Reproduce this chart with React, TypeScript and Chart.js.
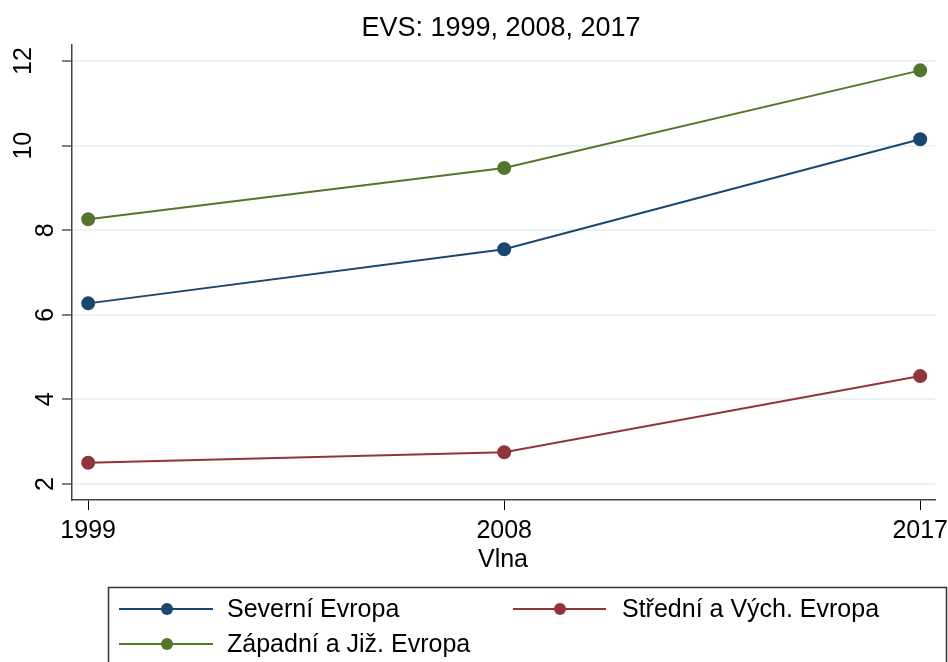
import React, { useEffect, useRef } from "react";
import { Chart, registerables } from "chart.js";

Chart.register(...registerables);

const waves = [1999, 2008, 2017];
const yTicks = [2, 4, 6, 8, 10, 12];
const seriesNames = ["Severní Evropa", "Střední a Vých. Evropa", "Západní a Již. Evropa"];
const severni = [6.27, 7.55, 10.15];
const stredni = [2.5, 2.75, 4.55];
const zapadni = [8.26, 9.47, 11.78];
const colors = ["#1a476f", "#90353b", "#55752f"];
const titleText = "EVS: 1999, 2008, 2017";
const xTitle = "Vlna";

const FONT = "'Liberation Sans', Arial, sans-serif";

const textPlugin = {
  id: "stataText",
  afterDraw(chart: any) {
    const ctx = chart.ctx;
    const xs = chart.scales.x;
    const ys = chart.scales.y;
    ctx.save();
    ctx.fillStyle = "#000";
    // title
    ctx.font = `27px ${FONT}`;
    ctx.textAlign = "center";
    ctx.textBaseline = "alphabetic";
    ctx.fillText(titleText, 501, 36);
    // x tick labels
    ctx.font = `25px ${FONT}`;
    waves.forEach((w) => {
      ctx.fillText(String(w), xs.getPixelForValue(w), 538);
    });
    // x title
    ctx.fillText(xTitle, 503, 567);
    // y tick labels rotated
    yTicks.forEach((t) => {
      const y = ys.getPixelForValue(t);
      const label = String(t);
      const bx = label.length > 1 ? 31 : 53;
      ctx.save();
      ctx.translate(bx, y);
      ctx.rotate(-Math.PI / 2);
      ctx.textAlign = "center";
      ctx.textBaseline = "alphabetic";
      ctx.fillText(label, 0, 0);
      ctx.restore();
    });
    // legend box
    ctx.strokeStyle = "#333";
    ctx.lineWidth = 1.5;
    ctx.strokeRect(108.5, 587.5, 838, 100);
    const entries = [
      { x0: 119, x1: 213, mx: 167, tx: 227, y: 609 },
      { x0: 513, x1: 606, mx: 560, tx: 622, y: 609 },
      { x0: 119, x1: 213, mx: 167, tx: 227, y: 644 },
    ];
    chart.data.datasets.forEach((ds: any, i: number) => {
      const e = entries[i];
      ctx.strokeStyle = ds.borderColor;
      ctx.lineWidth = 2;
      ctx.beginPath();
      ctx.moveTo(e.x0, e.y);
      ctx.lineTo(e.x1, e.y);
      ctx.stroke();
      ctx.fillStyle = ds.borderColor;
      ctx.beginPath();
      ctx.arc(e.mx, e.y, 6, 0, Math.PI * 2);
      ctx.fill();
      ctx.fillStyle = "#000";
      ctx.textAlign = "left";
      ctx.textBaseline = "middle";
      ctx.font = `25px ${FONT}`;
      ctx.fillText(ds.label, e.tx, e.y + 1);
    });
    ctx.restore();
  },
};

export default function App() {
  const ref = useRef<HTMLCanvasElement | null>(null);
  useEffect(() => {
    if (!ref.current) return;
    const mk = (i: number, vals: number[]) => ({
      label: seriesNames[i],
      data: waves.map((w, k) => ({ x: w, y: vals[k] })),
      borderColor: colors[i],
      backgroundColor: colors[i],
      pointBackgroundColor: colors[i],
      pointBorderColor: colors[i],
      pointRadius: 6,
      borderWidth: 2,
      tension: 0,
    });
    const chart = new Chart(ref.current, {
      type: "line",
      data: { datasets: [mk(0, severni), mk(1, stredni), mk(2, zapadni)] },
      options: {
        animation: false,
        responsive: false,
        maintainAspectRatio: false,
        layout: { padding: { left: 0, right: 13, top: 45, bottom: 0 } },
        plugins: {
          legend: { display: false },
          title: { display: false },
          tooltip: { enabled: false },
        },
        scales: {
          x: {
            type: "linear",
            min: 1998.65,
            max: 2017.32,
            afterBuildTicks: (s: any) => {
              s.ticks = waves.map((v) => ({ value: v }));
            },
            afterFit: (s: any) => {
              s.height = 162;
            },
            ticks: { display: false },
            grid: {
              color: "rgba(0,0,0,0)",
              tickColor: "#000",
              tickLength: 10,
              tickWidth: 1,
              drawOnChartArea: true,
            },
            border: { color: "#444", width: 1.5 },
          },
          y: {
            type: "linear",
            min: 1.62,
            max: 12.38,
            afterBuildTicks: (s: any) => {
              s.ticks = yTicks.map((v) => ({ value: v }));
            },
            afterFit: (s: any) => {
              s.width = 72;
            },
            ticks: { display: false },
            grid: {
              color: "#eaf2f3",
              lineWidth: 2,
              tickColor: "#000",
              tickLength: 10,
              tickWidth: 1,
            },
            border: { color: "#444", width: 1.5 },
          },
        },
      },
      plugins: [textPlugin],
    });
    return () => chart.destroy();
  }, []);
  return (
    <div style={{ position: "absolute", left: 0, top: 0, width: 948, height: 662, background: "#fff" }}>
      <canvas ref={ref} width={948} height={662} style={{ display: "block" }} />
    </div>
  );
}
